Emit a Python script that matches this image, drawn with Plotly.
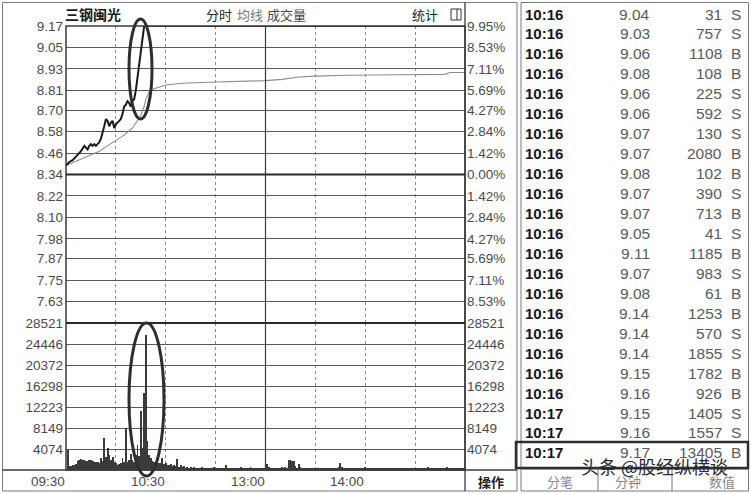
import plotly.graph_objects as go

# ---------------- data ----------------
# intraday price (minutes after 09:30, trading-minute index 0..240)
price_t = [0, 2, 4, 6, 7, 9, 11, 12, 13, 14, 15, 16, 17, 18, 19, 20, 21, 22, 23, 24,
           25, 26, 27, 28, 29, 30, 31, 32, 33, 34, 35, 36, 37, 38, 39, 40, 41, 42, 43,
           44, 45, 46, 47, 240]
price_v = [8.39, 8.41, 8.42, 8.44, 8.45, 8.47, 8.50, 8.49, 8.48, 8.50, 8.51, 8.50, 8.51,
           8.50, 8.51, 8.52, 8.54, 8.57, 8.61, 8.65, 8.64, 8.61, 8.63, 8.64, 8.60, 8.62,
           8.63, 8.64, 8.65, 8.68, 8.72, 8.73, 8.75, 8.74, 8.72, 8.75, 8.76, 8.81, 8.88,
           8.96, 9.05, 9.12, 9.17, 9.17]

avg_t = [0, 5, 10, 15, 20, 25, 30, 35, 40, 43, 45, 47, 48, 50, 53, 60, 70, 90, 120,
         130, 135, 140, 150, 170, 200, 228, 231, 240]
avg_v = [8.39, 8.41, 8.43, 8.45, 8.47, 8.50, 8.53, 8.56, 8.60, 8.64, 8.67, 8.72, 8.76,
         8.80, 8.82, 8.84, 8.85, 8.857, 8.865, 8.872, 8.88, 8.885, 8.89, 8.895, 8.898,
         8.90, 8.91, 8.91]

vol_t = list(range(1, 241))
vol_v = [
    3800, 700, 850, 900, 980, 1200, 1770, 1900, 2160, 2000,
    1970, 1800, 1770, 1900, 1970, 1700, 1640, 1500, 1510, 1400,
    2300, 1800, 6230, 2500, 4260, 2950, 2000, 2620, 1640, 1300,
    980, 1200, 1310, 2300, 1500, 8070, 1640, 2000, 3080, 1970,
    1500, 2950, 4920, 2800, 11480, 4260, 14900, 26200, 5580, 3000,
    2300, 1800, 1640, 1500, 2160, 1400, 1310, 2400, 1100, 1300,
    1000, 900, 1200, 800, 1020, 700, 2100, 600, 900, 500,
    700, 450, 600, 400, 500, 350, 600, 450, 300, 400,
    350, 500, 300, 450, 350, 300, 400, 300, 500, 350,
    300, 400, 350, 450, 300, 1020, 400, 350, 300, 450,
    350, 300, 400, 350, 500, 300, 350, 400, 300, 450,
    600, 350, 300, 400, 350, 300, 450, 300, 350, 400,
    1160, 500, 400, 350, 300, 450, 350, 400, 300, 500,
    450, 600, 400, 1900, 2000, 1700, 1800, 800, 400, 1160,
    500, 400, 350, 450, 300, 400, 350, 300, 450, 350,
    300, 400, 350, 300, 450, 350, 300, 400, 350, 300,
    400, 350, 300, 500, 1360, 680, 400, 350, 300, 400,
    350, 300, 400, 350, 300, 450, 350, 300, 400, 500,
    350, 300, 400, 350, 300, 450, 350, 400, 300, 350,
    400, 350, 300, 450, 350, 300, 400, 350, 300, 450,
    350, 300, 400, 350, 450, 300, 350, 400, 300, 350,
    400, 350, 300, 450, 350, 300, 400, 500, 350, 300,
    400, 350, 300, 450, 350, 300, 400, 350, 500, 300,
    350, 400, 300, 450, 350, 300, 400, 350, 450, 500,
]

price_ticks = [9.17, 9.05, 8.93, 8.81, 8.70, 8.58, 8.46, 8.34, 8.22, 8.10, 7.98, 7.87, 7.75, 7.63]
price_labels = ["9.17", "9.05", "8.93", "8.81", "8.70", "8.58", "8.46", "8.34", "8.22",
                "8.10", "7.98", "7.87", "7.75", "7.63"]
pct_labels = ["9.95%", "8.53%", "7.11%", "5.69%", "4.27%", "2.84%", "1.42%", "0.00%",
              "1.42%", "2.84%", "4.27%", "5.69%", "7.11%", "8.53%"]
vol_ticks = [4074, 8149, 12223, 16298, 20372, 24446, 28521]
vol_labels = ["4074", "8149", "12223", "16298", "20372", "24446", "28521"]
time_ticks = [0, 60, 120, 180]
time_labels = ["09:30", "10:30", "13:00", "14:00"]
grid_minutes = [30, 60, 90, 150, 180, 210]

trade_time = ["10:16", "10:16", "10:16", "10:16", "10:16", "10:16", "10:16", "10:16",
              "10:16", "10:16", "10:16", "10:16", "10:16", "10:16", "10:16", "10:16",
              "10:16", "10:16", "10:16", "10:16", "10:17", "10:17", "10:17"]
trade_price = ["9.04", "9.03", "9.06", "9.08", "9.06", "9.06", "9.07", "9.07", "9.08",
               "9.07", "9.07", "9.05", "9.11", "9.07", "9.08", "9.14", "9.14", "9.14",
               "9.15", "9.16", "9.15", "9.16", "9.17"]
trade_vol = [31, 757, 1108, 108, 225, 592, 130, 2080, 102, 390, 713, 41, 1185, 983, 61,
             1253, 570, 1855, 1782, 926, 1405, 1557, 13405]
trade_side = ["S", "S", "B", "B", "S", "S", "S", "B", "B", "S", "B", "S", "B", "S", "B",
              "B", "S", "S", "B", "B", "S", "S", "B"]

# ---------------- layout helpers ----------------
W, H = 751, 494


def X(px):
    return px / W


def Y(py):
    return 1 - py / H


NUM_FONT = "Liberation Sans, Arial, sans-serif"
CJK_FONT = "Noto Sans CJK SC, sans-serif"

fig = go.Figure()

fig.add_trace(go.Bar(x=vol_t, y=vol_v, xaxis="x", yaxis="y2", width=0.55,
                     marker=dict(color="#3a3a3a", line=dict(width=0)),
                     hoverinfo="skip"))
fig.add_trace(go.Scatter(x=avg_t, y=avg_v, xaxis="x", yaxis="y", mode="lines",
                         line=dict(color="#8c8c8c", width=1.1), hoverinfo="skip"))
fig.add_trace(go.Scatter(x=price_t, y=price_v, xaxis="x", yaxis="y", mode="lines",
                         line=dict(color="#1a1a1a", width=2), hoverinfo="skip"))

tickfont = dict(family=NUM_FONT, size=13.5, color="#4a4a4a")
common_y = dict(ticks="", zeroline=False, showline=False, automargin=False,
                tickfont=tickfont)

fig.update_layout(
    template="none",
    width=W, height=H,
    autosize=False,
    margin=dict(l=0, r=0, t=0, b=0, pad=0),
    paper_bgcolor="white", plot_bgcolor="white",
    font=dict(family=NUM_FONT, size=13, color="#333"),
    showlegend=False, hovermode=False,
    bargap=0,
    xaxis=dict(domain=[X(66), X(465)], range=[0, 240], anchor="y2",
               tickvals=grid_minutes, showticklabels=False, ticks="",
               showgrid=True, gridcolor="#8a8a8a", gridwidth=1, griddash="dot",
               zeroline=False, showline=False, automargin=False),
    yaxis=dict(domain=[Y(323), Y(26)], range=[7.5099, 9.1702], anchor="x",
               tickvals=price_ticks, ticktext=price_labels,
               showgrid=True, gridcolor="#5a5a5a", gridwidth=1,
               ticklabelstandoff=2, **common_y),
    yaxis3=dict(overlaying="y", side="right", range=[7.5099, 9.1702], anchor="x",
                tickvals=price_ticks, ticktext=pct_labels, showgrid=False,
                ticklabelstandoff=1, **common_y),
    yaxis2=dict(domain=[Y(470), Y(323)], range=[0, 28522], anchor="x",
                tickvals=vol_ticks, ticktext=vol_labels,
                showgrid=True, gridcolor="#5a5a5a", gridwidth=1,
                ticklabelstandoff=2, **common_y),
    yaxis4=dict(overlaying="y2", side="right", range=[0, 28522], anchor="x",
                tickvals=vol_ticks, ticktext=vol_labels, showgrid=False,
                ticklabelstandoff=1, **common_y),
)

# empty traces so the right-hand axes render
fig.add_trace(go.Scatter(x=[None], y=[None], xaxis="x", yaxis="y3", hoverinfo="skip"))
fig.add_trace(go.Scatter(x=[None], y=[None], xaxis="x", yaxis="y4", hoverinfo="skip"))

shapes = []


def pline(x0, y0, x1, y1, color="#444", width=1):
    shapes.append(dict(type="line", xref="paper", yref="paper", x0=X(x0), y0=Y(y0),
                       x1=X(x1), y1=Y(y1), line=dict(color=color, width=width)))


def prect(x0, y0, x1, y1, color="#444", width=1):
    shapes.append(dict(type="rect", xref="paper", yref="paper", x0=X(x0), y0=Y(y0),
                       x1=X(x1), y1=Y(y1), line=dict(color=color, width=width),
                       fillcolor="rgba(0,0,0,0)"))


# outer panel frames
prect(2.5, 2.5, 517, 491, "#7a7a7a", 1)
prect(521, 2.5, 748.5, 491, "#7a7a7a", 1)
# plot area frame
prect(66, 26, 465, 470, "#3a3a3a", 1.5)
pline(465, 2.5, 465, 491, "#3a3a3a", 1.3)
pline(2.5, 470, 517, 470, "#3a3a3a", 1.3)
# panel separator (price / volume)
pline(66, 323, 465, 323, "#2a2a2a", 2)
# solid 13:00 divider and thick previous-close line (data coords)
shapes.append(dict(type="line", xref="x", yref="paper", x0=120, x1=120, y0=Y(470),
                   y1=Y(26), line=dict(color="#3a3a3a", width=1.2)))
shapes.append(dict(type="line", xref="x", yref="y", x0=0, x1=240, y0=8.34, y1=8.34,
                   line=dict(color="#2a2a2a", width=2)))
# stats icon
prect(451, 9, 461, 20, "#333", 1)
pline(457, 9, 457, 20, "#333", 1)
# trade list tabs
pline(521, 469, 749, 469, "#7a7a7a", 1)
pline(598, 469, 598, 491, "#7a7a7a", 1)
pline(672, 469, 672, 491, "#7a7a7a", 1)
# highlighted last trade
prect(516, 442, 748, 468, "#2e2e2e", 2.5)
# hand-drawn ovals
shapes.append(dict(type="circle", xref="paper", yref="paper", x0=X(129), x1=X(152),
                   y0=Y(119), y1=Y(19), line=dict(color="#2e2e2e", width=3)))
shapes.append(dict(type="circle", xref="paper", yref="paper", x0=X(129), x1=X(164),
                   y0=Y(476), y1=Y(323), line=dict(color="#2e2e2e", width=3)))

fig.update_layout(shapes=shapes)

ann = []


def text(x, y, s, size=13, color="#333", xanchor="left", family=CJK_FONT,
         xref="paper"):
    ann.append(dict(x=x, y=y, xref=xref, yref="paper", text=s, showarrow=False,
                    xanchor=xanchor, yanchor="middle", borderpad=0,
                    font=dict(family=family, size=size, color=color)))


# header
text(X(64), Y(14), "<b>三钢闽光</b>", 14, "#1a1a1a")
text(X(205), Y(14), "分时", 13, "#222")
text(X(236), Y(14), "均线", 13, "#777")
text(X(266), Y(14), "成交量", 13, "#444")
text(X(411), Y(14), "统计", 13, "#222")

# time axis labels (right-aligned at their tick)
for t, lab in zip(time_ticks, time_labels):
    text(t, Y(481), lab, 13.5, "#4a4a4a", "right", NUM_FONT, xref="x")

text(X(491), Y(481), "<b>操作</b>", 13, "#222", "center")

# trade list
for i in range(len(trade_time)):
    yy = Y(14 + i * 19.95)
    text(X(524), yy, "<b>" + trade_time[i] + "</b>", 15, "#151515", "left", NUM_FONT)
    text(X(651), yy, trade_price[i], 15.5, "#5a5a5a", "right", NUM_FONT)
    text(X(723), yy, str(trade_vol[i]), 15.5, "#5a5a5a", "right", NUM_FONT)
    text(X(736), yy, trade_side[i], 15.5, "#5a5a5a", "center", NUM_FONT)

# bottom tabs
text(X(560), Y(481), "分笔", 13, "#888", "center")
text(X(628), Y(481), "分钟", 13, "#888", "center")
text(X(722), Y(481), "数值", 13, "#888", "center")

# watermark
text(X(580), Y(466), "头条 @股经纵横谈", 18, "#2a2a2a", "left")

fig.update_layout(annotations=ann)

# remove the default 8px page margin so the figure sits at the window's top-left
fig.write_html("out.html",
               config={"displayModeBar": False, "responsive": False},
               post_script="document.body.style.margin='0px';"
                           "document.documentElement.style.overflow='hidden';")
